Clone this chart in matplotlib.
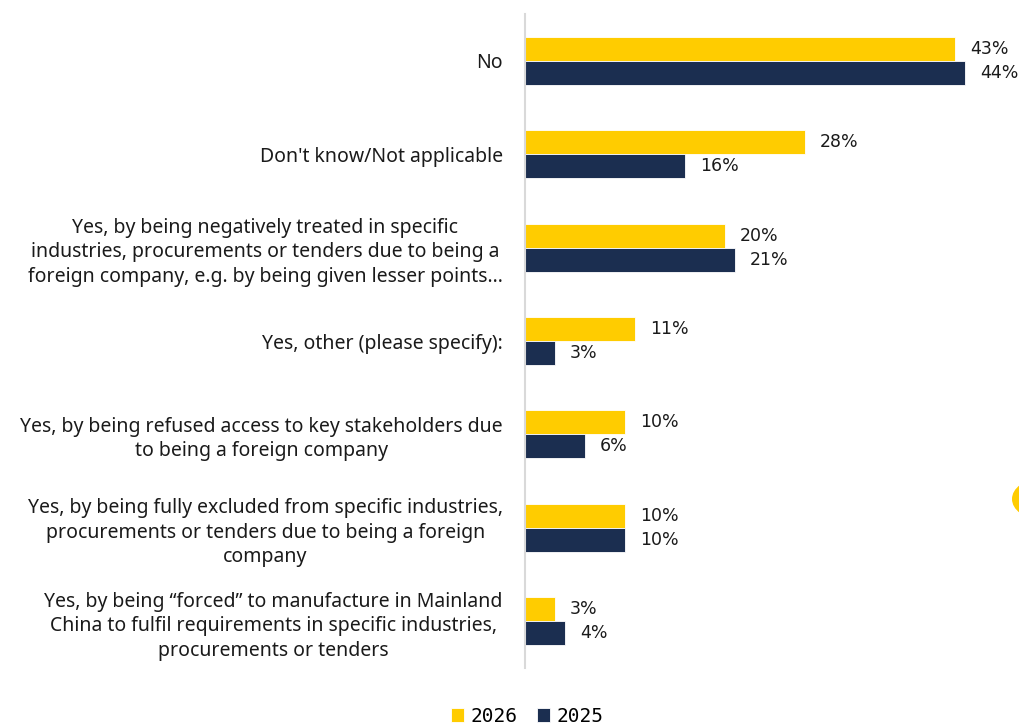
import matplotlib
matplotlib.use("Agg")
import matplotlib.pyplot as plt
import numpy as np
from matplotlib.patches import Ellipse

categories = [
    "No",
    "Don't know/Not applicable",
    "Yes, by being negatively treated in specific\nindustries, procurements or tenders due to being a\nforeign company, e.g. by being given lesser points\u2026",
    "Yes, other (please specify):",
    "Yes, by being refused access to key stakeholders due\nto being a foreign company",
    "Yes, by being fully excluded from specific industries,\nprocurements or tenders due to being a foreign\ncompany",
    "Yes, by being \u201cforced\u201d to manufacture in Mainland\nChina to fulfil requirements in specific industries,\nprocurements or tenders",
]
series_names = ["2026", "2025"]
values_2026 = [43, 28, 20, 11, 10, 10, 3]
values_2025 = [44, 16, 21, 3, 6, 10, 4]

YELLOW = "#FFCC00"
NAVY = "#1B2E50"

W, H = 1020, 724
fig = plt.figure(figsize=(W / 100, H / 100), dpi=100)
ax = fig.add_axes([525 / W, 1 - 668 / H, (1005 - 525) / W, (668 - 14) / H])

y = np.arange(len(categories))
bh = 0.257
b1 = ax.barh(y - bh / 2, values_2026, height=bh, color=YELLOW, edgecolor="white",
             linewidth=0.6, label=series_names[0])
b2 = ax.barh(y + bh / 2, values_2025, height=bh, color=NAVY, edgecolor="white",
             linewidth=0.6, label=series_names[1])

for bars, vals in ((b1, values_2026), (b2, values_2025)):
    for rect, v in zip(bars, vals):
        ax.text(v + 1.5, rect.get_y() + rect.get_height() / 2, f"{v}%",
                va="center", ha="left", fontsize=12.5, family="DejaVu Sans",
                color="#1a1a1a")

ax.set_ylim(len(categories) - 0.5, -0.5)
ax.set_xlim(0, 48)
ax.set_yticks(y)
ax.set_yticklabels(categories, fontsize=14, family="Noto Sans", color="#1a1a1a",
                   multialignment="center", linespacing=1.3)
ax.tick_params(axis="y", length=0, pad=16)
ax.set_xticks([])
for s in ("top", "right", "bottom"):
    ax.spines[s].set_visible(False)
ax.spines["left"].set_color("#D9D9D9")
ax.spines["left"].set_linewidth(1.5)

leg = fig.legend(handles=[b1, b2], labels=series_names, loc="center",
                 bbox_to_anchor=(527 / W, 1 - 716 / H), ncol=2, frameon=False,
                 handlelength=0.7, handleheight=0.7, handletextpad=0.3,
                 columnspacing=1.0, prop={"family": "DejaVu Sans Mono", "size": 14})

# partial yellow badge at the right edge
fig.patches.append(Ellipse((1040 / W, 1 - 499 / H), 56 / W, 40 / H,
                           transform=fig.transFigure, facecolor=YELLOW,
                           edgecolor="none"))

fig.savefig("out.png", dpi=100, facecolor="white")
